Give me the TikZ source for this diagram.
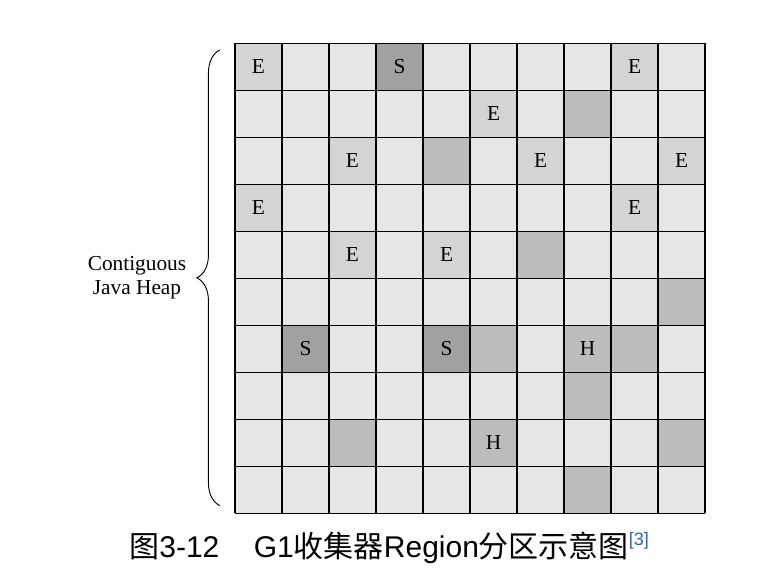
\documentclass[tikz,border=0pt]{standalone}
\usepackage{fontspec}
\setmainfont{Liberation Serif}
\newfontfamily\capsans{Liberation Sans}
\newfontfamily\cjk{Noto Sans CJK SC}
\usepackage{tikz}
\usetikzlibrary{decorations.pathreplacing}

\definecolor{freegray}{HTML}{E6E6E6}
\definecolor{edengray}{HTML}{D4D4D4}
\definecolor{midgray}{HTML}{BCBCBE}
\definecolor{survgray}{HTML}{A1A1A3}
\definecolor{refblue}{HTML}{2A62C8}

\tikzset{
  region/.style={font=\fontsize{16}{18}\selectfont, inner sep=0pt},
  heaplabel/.style={font=\fontsize{16}{18}\selectfont, align=center},
}

\begin{document}
\begin{tikzpicture}[x=35.25pt,y=35.25pt]
\useasboundingbox (-5,0.921) rectangle (11.574,-11.377);

% Define coordinates for easier positioning
\coordinate (TL) at (0,0);
\coordinate (BR) at (10,-10);
\coordinate (BT) at (-0.32,-0.14);
\coordinate (BB) at (-0.32,-9.84);

% Fill the free regions
\fill[freegray] (TL) rectangle (BR);

% Eden regions
\foreach \c/\r in {0/0,8/0,5/1,2/2,6/2,9/2,0/3,8/3,2/4,4/4}{
  \fill[edengray] (\c,-\r) rectangle ++(1,-1);
  \node[region] (e\c-\r) at ({\c+0.5},{-\r-0.5}) {E};
}

% Old regions
\foreach \c/\r in {7/1,4/2,6/4,9/5,5/6,8/6,7/7,2/8,9/8,7/9}
  \fill[midgray] (\c,-\r) rectangle ++(1,-1);

% Humongous regions
\foreach \c/\r in {7/6,5/8}{
  \fill[midgray] (\c,-\r) rectangle ++(1,-1);
  \node[region] (h\c-\r) at ({\c+0.5},{-\r-0.5}) {H};
}

% Survivor regions
\foreach \c/\r in {3/0,1/6,4/6}{
  \fill[survgray] (\c,-\r) rectangle ++(1,-1);
  \node[region] (s\c-\r) at ({\c+0.5},{-\r-0.5}) {S};
}

% Draw the grid
\draw[line width=0.8pt, step=1] (BR) grid (TL);

% Draw the brace
\draw[line width=0.7pt, decorate, decoration={brace, amplitude=0.49*35.25pt}] (BB) -- (BT);
\node[heaplabel] (heap) at (-2.085,-4.99) {Contiguous\\Java Heap};

% Add caption
\node[anchor=base, inner sep=0pt, font=\fontsize{22.5}{25}\selectfont] (caption) at (3.28,-10.95)
  {{\cjk 图}{\capsans 3-12}\hspace{1.15em}{\capsans G1}{\cjk 收集器}{\capsans Region}{\cjk 分区示意图}\raisebox{9.5pt}{\capsans\fontsize{13.5}{13.5}\selectfont\color{refblue}[3]}};
\end{tikzpicture}
\end{document}
